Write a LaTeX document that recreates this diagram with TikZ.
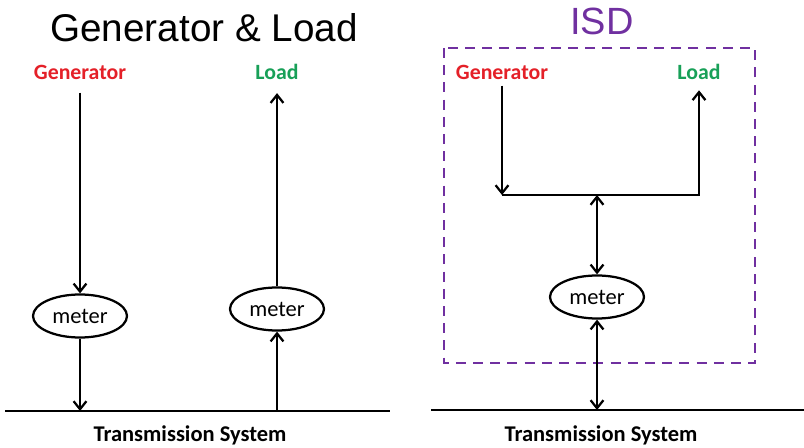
\documentclass[tikz,border=0pt]{standalone}
\usepackage{fontspec}
\setmainfont{Carlito}
\newfontfamily\headfont{Liberation Sans}
\usetikzlibrary{arrows.meta,shapes.geometric}

\definecolor{genred}{RGB}{228,32,40}
\definecolor{loadgreen}{RGB}{24,160,88}
\definecolor{isdpurple}{RGB}{112,48,160}

\tikzset{
  wire/.style={line width=1.6pt},
  flow/.style={wire, -{Straight Barb[length=2mm, width=3.2mm]}},
  twoway/.style={wire, {Straight Barb[length=2mm, width=3.2mm]}-{Straight Barb[length=2mm, width=3.2mm]}},
  meter/.style={draw, ellipse, line width=1.6pt, minimum width=2.35cm, minimum height=1.075cm,
    inner sep=0pt, font=\fontsize{16}{18}\selectfont},
  heading/.style={font=\headfont\fontsize{27.5}{30}\selectfont},
  source/.style={font=\bfseries\fontsize{15.5}{18}\selectfont, text=genred},
  sink/.style={font=\bfseries\fontsize{15.5}{18}\selectfont, text=loadgreen},
  buslabel/.style={font=\bfseries\fontsize{16}{18}\selectfont},
  isdbox/.style={draw=isdpurple, line width=1.4pt, dash pattern=on 2.5mm off 1.8mm}
}

\begin{document}
\begin{tikzpicture}[x=0.25mm, y=-0.25mm]
  \useasboundingbox (0,0) rectangle (804,448);

  % Left: separate generator and load.
  \node[heading] (titleA) at (204,28) {Generator \& Load};
  \node[source] (genA) at (80,72) {Generator};
  \node[sink] (loadA) at (277,72) {Load};
  % Meters.
  \node[meter] (meterA) at (80,316) {meter};
  \node[meter] (meterB) at (277,309) {meter};

  % Transmission bus.
  \coordinate (busAL) at (5,411);
  \coordinate (busAR) at (390,411);
  \coordinate (busA) at (80,411);
  \coordinate (busB) at (277,411);
  \draw[wire] (busAL) -- (busAR);
  \node[buslabel] (tsA) at (190,435) {Transmission System};

  % Flows.
  \draw[flow, shorten <=6pt] (genA) -- (meterA);
  \draw[flow] (meterA) -- (busA);
  \draw[flow] (busB) -- (meterB);
  \draw[flow, shorten >=6pt] (meterB) -- (loadA);

  % Right: ISD.
  \node[heading, font=\headfont\fontsize{27}{30}\selectfont, text=isdpurple] (titleB) at (602,21) {ISD};
  \draw[isdbox] (444,48) rectangle (755,363);
  \node[source] (genB) at (502,72) {Generator};
  \node[sink] (loadB) at (699,72) {Load};
  \coordinate (split) at (597,195);
  \node[meter] (meterC) at (597,297) {meter};

  % Transmission bus.
  \coordinate (busCL) at (431,410);
  \coordinate (busCR) at (804,410);
  \coordinate (busC) at (597,410);
  \draw[wire] (busCL) -- (busCR);
  \node[buslabel] (tsB) at (601,435) {Transmission System};

  % Flows.
  \draw[flow, shorten <=1pt] (genB) -- (genB |- split);
  \draw[flow, shorten >=4pt] (genB |- split) -- (loadB |- split) -- (loadB);
  \draw[twoway] (split) -- (meterC);
  \draw[twoway] (meterC) -- (busC);
\end{tikzpicture}
\end{document}
